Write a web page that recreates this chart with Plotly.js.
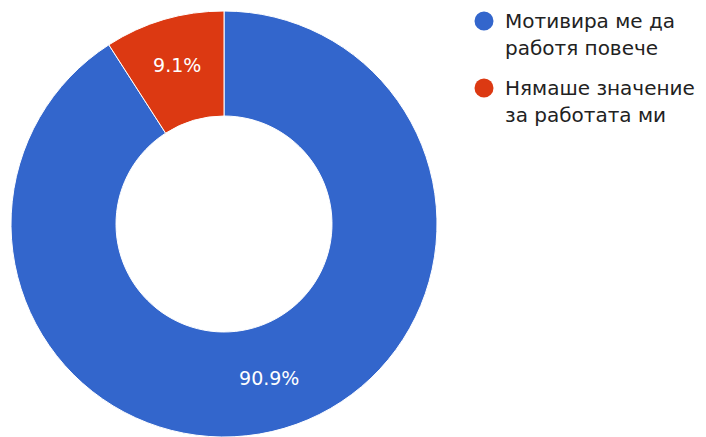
<!DOCTYPE html>
<html>
<head>
<meta charset="utf-8">
<script src="https://cdn.plot.ly/plotly-3.0.1.min.js"></script>
<style>html,body{margin:0;padding:0;background:#fff;}#chart{width:706px;height:437px;}</style>
</head>
<body>
<div id="chart"></div>
<script>
const labels = ["Мотивира ме да работя повече", "Нямаше значение за работата ми"];
const values = [10, 1];
const colors = ["#3366cc", "#dc3912"];
const legendLines = [["Мотивира ме да", "работя повече"], ["Нямаше значение", "за работата ми"]];

const W = 706, H = 437;
const annotations = [];
const shapes = [];
legendLines.forEach((lines, i) => {
  const cy = 21 + i * 67;
  shapes.push({type: "circle", xref: "paper", yref: "paper",
    x0: (484 - 9.5) / W, x1: (484 + 9.5) / W, y0: 1 - (cy + 9.5) / H, y1: 1 - (cy - 9.5) / H,
    fillcolor: colors[i], line: {width: 0}});
  lines.forEach((t, j) => {
    annotations.push({text: t, xref: "paper", yref: "paper", x: 503 / W, y: 1 - (cy + j * 27) / H,
      xanchor: "left", yanchor: "middle", showarrow: false,
      font: {family: "DejaVu Sans, sans-serif", size: 20, color: "#222222"}});
  });
});

Plotly.newPlot("chart", [{
  type: "pie",
  labels: labels,
  values: values,
  hole: 0.507,
  sort: false,
  direction: "clockwise",
  rotation: 0,
  marker: {colors: colors, line: {color: "#ffffff", width: 1}},
  texttemplate: "%{percent:.1%}",
  textposition: "inside",
  insidetextorientation: "horizontal",
  insidetextfont: {family: "DejaVu Sans, sans-serif", size: 19, color: "#ffffff"},
  showlegend: false,
  domain: {x: [11 / W, 437 / W], y: [0, 426 / H]}
}], {
  width: W, height: H,
  margin: {l: 0, r: 0, t: 0, b: 0},
  paper_bgcolor: "#ffffff",
  showlegend: false,
  annotations: annotations,
  shapes: shapes
}, {displayModeBar: false});
</script>
</body>
</html>
